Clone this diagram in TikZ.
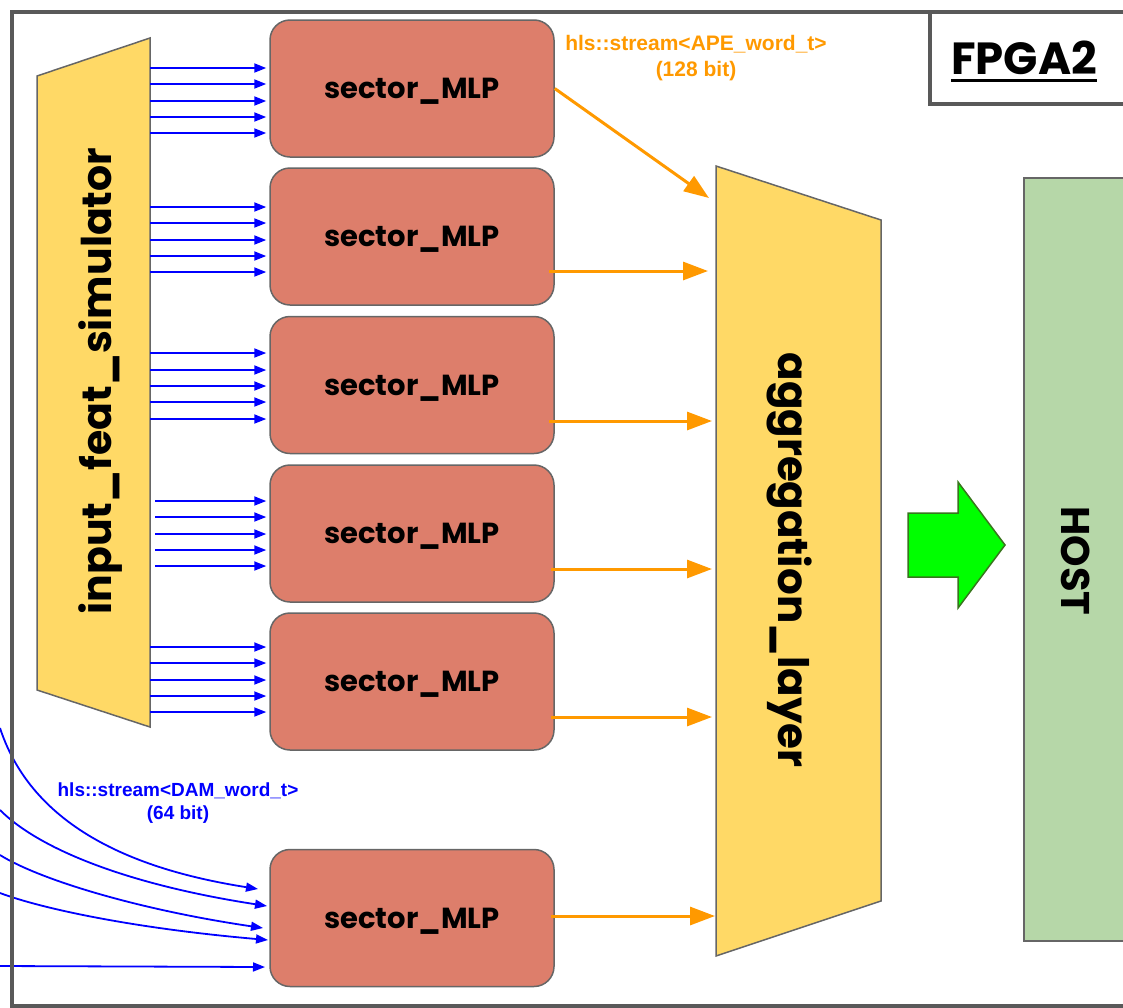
\documentclass[tikz,border=0pt]{standalone}
\usepackage{fontspec}
\setmainfont{Liberation Sans}
\newfontfamily\pop{Poppins}
\usetikzlibrary{arrows.meta}
\definecolor{framegray}{HTML}{595959}
\definecolor{bd}{HTML}{666666}
\definecolor{yel}{HTML}{FFD966}
\definecolor{redb}{HTML}{DD7E6B}
\definecolor{hostg}{HTML}{B6D7A8}
\definecolor{orng}{HTML}{FF9900}
\definecolor{lime}{HTML}{00FF00}
\definecolor{dkgreen}{HTML}{38761D}
\newcommand{\smlptxt}{\raisebox{-3pt}[\height][\depth]{sector\_MLP}}
\begin{document}
\begin{tikzpicture}[x=1pt,y=-1pt,
  smlp/.style={draw=bd, fill=redb, rounded corners=20pt, line width=1.5pt,
    minimum width=284pt, minimum height=137pt, inner sep=0pt,
    font=\pop\bfseries\fontsize{29}{34}\selectfont},
  barrow/.style={blue, line width=1.8pt, -{Triangle[length=12pt,width=9pt]}},
  oarrow/.style={orng, line width=3pt, -{Triangle[length=25pt,width=18pt]}},
  trap/.style={draw=bd, fill=yel, line width=1.5pt},
  bigtxt/.style={font=\pop\bfseries\fontsize{41}{46}\selectfont, inner sep=0pt}]
\useasboundingbox (0,0) rectangle (1123,1007);
\clip (0,0) rectangle (1123,1007);

% input_feat_simulator
\draw[trap] (37,76) -- (150,38) -- (150,727) -- (37,690) -- cycle;
\node[minimum width=113pt, minimum height=689pt, inner sep=0pt] (ifs) at (93.5,382.5) {};
\node[bigtxt, rotate=90] (ifstxt) at (101,381) {input\_feat\_simulator};

% sector boxes
\node[smlp] (s1) at (412,88.5) {\smlptxt};
\node[smlp] (s2) at (412,236.5) {\smlptxt};
\node[smlp] (s3) at (412,385) {\smlptxt};
\node[smlp] (s4) at (412,533.5) {\smlptxt};
\node[smlp] (s5) at (412,681.5) {\smlptxt};
\node[smlp] (s6) at (412,918) {\smlptxt};

% blue arrows
\foreach \y in {68,84,101,117,133} \draw[barrow] (ifs.east |- 0,\y) -- ([xshift=-3pt]s1.west |- 0,\y);
\foreach \y in {207,223,240,256,272} \draw[barrow] (ifs.east |- 0,\y) -- ([xshift=-3pt]s2.west |- 0,\y);
\foreach \y in {353,370,386,402,419} \draw[barrow] (ifs.east |- 0,\y) -- ([xshift=-3pt]s3.west |- 0,\y);
\foreach \y in {501,517,534,550,566} \draw[barrow] ([xshift=5pt]ifs.east |- 0,\y) -- ([xshift=-3pt]s4.west |- 0,\y);
\foreach \y in {647,663,680,696,712} \draw[barrow] (ifs.east |- 0,\y) -- ([xshift=-3pt]s5.west |- 0,\y);

% incoming curves to s6
\coordinate (c1s) at (0,728);  \coordinate (c1e) at (258,889);
\coordinate (c2s) at (0,810);  \coordinate (c2e) at (267,906);
\coordinate (c3s) at (0,855);  \coordinate (c3e) at (263,928);
\coordinate (c4s) at (0,893);  \coordinate (c4e) at (268,940);
\coordinate (c5s) at (0,966);  \coordinate (c5e) at (265,967);
\draw[barrow] (c1s) .. controls (35,835) and (150,872) .. (c1e);
\draw[barrow] (c2s) .. controls (40,850) and (130,885) .. (c2e);
\draw[barrow] (c3s) .. controls (40,880) and (140,910) .. (c3e);
\draw[barrow] (c4s) .. controls (40,908) and (130,928) .. (c4e);
\draw[barrow] (c5s) -- (c5e);

\node[blue, font=\bfseries\fontsize{19}{23}\selectfont, align=center, inner sep=0pt] (dlab) at (178,803.5) {hls::stream<DAM\_word\_t>\\(64 bit)};

% aggregation layer
\draw[trap] (716,166) -- (881,220) -- (881,901) -- (716,956) -- cycle;
\node[minimum width=165pt, minimum height=790pt, inner sep=0pt] (agg) at (798.5,561) {};
\node[bigtxt, font=\pop\bfseries\fontsize{42}{46}\selectfont, rotate=-90] (aggtxt) at (790,560) {aggregation\_layer};

% orange arrows
\coordinate (a1) at (709,198);
\coordinate (a2) at (708,271);
\coordinate (a3) at (712,421);
\coordinate (a4) at (712,569);
\coordinate (a5) at (712,717);
\coordinate (a6) at (715,916);
\draw[oarrow] (s1.east) -- (a1);
\draw[oarrow] ([xshift=-6pt]s2.east |- a2) -- (a2);
\draw[oarrow] ([xshift=-6pt]s3.east |- a3) -- (a3);
\draw[oarrow] ([xshift=-4pt]s4.east |- a4) -- (a4);
\draw[oarrow] ([xshift=-4pt]s5.east |- a5) -- (a5);
\draw[oarrow] ([xshift=-4pt]s6.east |- a6) -- (a6);

\node[orng, font=\bfseries\fontsize{21}{26}\selectfont, align=center, inner sep=0pt] (olab) at (696,58) {hls::stream<APE\_word\_t>\\(128 bit)};

% green arrow
\draw[fill=lime, draw=dkgreen, line width=1.5pt] (908,513) -- (958,513) -- (958,482) -- (1005,545) -- (958,608) -- (958,577) -- (908,577) -- cycle;

% HOST
\draw[draw=bd, fill=hostg, line width=1.5pt] (1024,178) rectangle (1140,941);
\node[font=\pop\bfseries\fontsize{40}{44}\selectfont, rotate=-90, inner sep=0pt] (host) at (1076,561) {HOST};

% frame
\draw[framegray, line width=4.5pt] (12,12) rectangle (1140,1006);
\draw[framegray, line width=4pt, fill=white] (930,12) -- (930,104) -- (1140,104) -- (1140,12) -- cycle;
\node[font=\pop\bfseries\fontsize{45}{50}\selectfont, inner sep=0pt] (fp) at (1024,58) {FPGA2};
\draw[line width=3.5pt] ([yshift=-6pt]fp.base west) -- ([yshift=-6pt]fp.base east);
\end{tikzpicture}
\end{document}
